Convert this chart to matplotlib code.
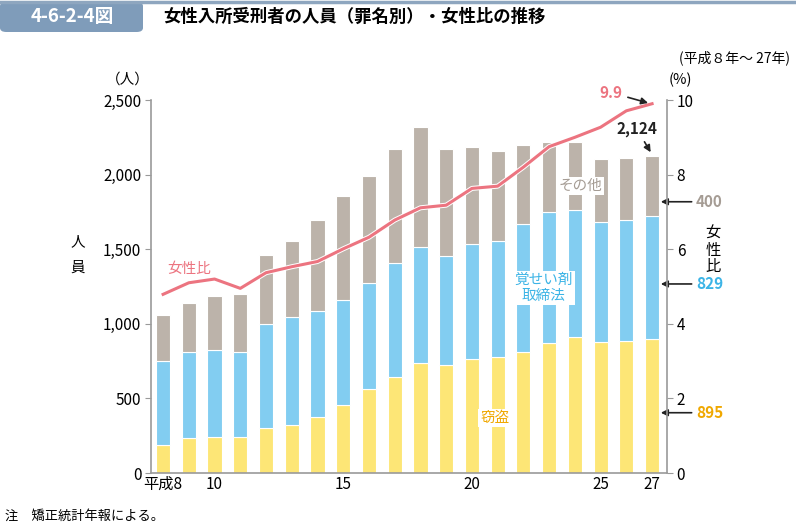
import matplotlib
matplotlib.use('Agg')
import matplotlib.pyplot as plt
import matplotlib.patheffects as pe
from matplotlib.patches import FancyBboxPatch
import numpy as np

plt.rcParams['font.family'] = ['Noto Sans CJK JP', 'DejaVu Sans']

# 平成8年～27年
years = list(range(8, 28))
theft = [188, 232, 244, 241, 302, 319, 373, 453, 561, 643,
         735, 722, 762, 775, 809, 869, 911, 876, 882, 895]
stimulant = [563, 577, 580, 568, 695, 724, 713, 707, 710, 767,
             782, 735, 771, 782, 858, 882, 854, 809, 812, 829]
other = [308, 332, 365, 389, 462, 510, 610, 694, 720, 759,
         804, 712, 654, 603, 531, 465, 451, 420, 417, 400]
female_ratio = [4.79, 5.10, 5.20, 4.95, 5.37, 5.53, 5.67, 6.01, 6.32, 6.78,
                7.11, 7.18, 7.63, 7.69, 8.20, 8.75, 9.00, 9.27, 9.71, 9.9]
tick_years = [8, 10, 15, 20, 25, 27]
tick_labels = ['平成8', '10', '15', '20', '25', '27']

COL_THEFT = '#fde676'
COL_STIM = '#82cdf1'
COL_OTHER = '#bcb3aa'
COL_LINE = '#ec7480'
COL_AXIS = '#9a9a9a'

fig = plt.figure(figsize=(7.96, 5.22), dpi=100)
ax = fig.add_axes([151/796, 49/522, 516/796, 373/522])

x = np.array(years)
theft = np.array(theft)
stimulant = np.array(stimulant)
other = np.array(other)
w = 0.55
ax.bar(x, theft, w, color=COL_THEFT, edgecolor='white', linewidth=0.8, zorder=2)
ax.bar(x, stimulant, w, bottom=theft, color=COL_STIM, edgecolor='white', linewidth=0.8, zorder=2)
ax.bar(x, other, w, bottom=theft + stimulant, color=COL_OTHER, edgecolor='white', linewidth=0.8, zorder=2)

ax.set_xlim(7.53, 27.58)
ax.set_ylim(0, 2500)
ax.set_yticks(range(0, 2501, 500))
ax.set_yticklabels(['0', '500', '1,000', '1,500', '2,000', '2,500'])
ax.set_xticks(tick_years)
ax.set_xticklabels(tick_labels)
ax.tick_params(axis='x', length=0, labelsize=11, pad=2)
ax.tick_params(axis='y', direction='out', length=4, color=COL_AXIS, labelsize=11, pad=3)
for s in ['top', 'right']:
    ax.spines[s].set_visible(False)
for s in ['left', 'bottom']:
    ax.spines[s].set_color(COL_AXIS)
    ax.spines[s].set_linewidth(1.2)

ax2 = ax.twinx()
ax2.set_ylim(0, 10)
ax2.set_yticks(range(0, 11, 2))
ax2.tick_params(axis='y', direction='out', length=4, color=COL_AXIS, labelsize=11, pad=3)
for s in ['top', 'left', 'bottom']:
    ax2.spines[s].set_visible(False)
ax2.spines['right'].set_color(COL_AXIS)
ax2.spines['right'].set_linewidth(1.2)
ax2.plot(x, female_ratio, color=COL_LINE, linewidth=2.2, zorder=3,
         path_effects=[pe.Stroke(linewidth=3.6, foreground='white'), pe.Normal()])

# labels inside the chart
ax.text(9.0, 1370, '女性比', color=COL_LINE, fontsize=10.5, ha='center', va='center')
ax.text(24.2, 1925, 'その他', color='#a59c94', fontsize=10.5, ha='center', va='center',
        bbox=dict(facecolor='white', edgecolor='none', pad=1.5), zorder=4)
ax.text(22.8, 1240, '覚せい剤\n取締法', color='#3cb4e6', fontsize=10.5, ha='center', va='center',
        linespacing=1.15, bbox=dict(facecolor='white', edgecolor='none', pad=1.5), zorder=4)
ax.text(20.9, 370, '窃盗', color='#f0a800', fontsize=10.5, ha='center', va='center',
        bbox=dict(facecolor='white', edgecolor='none', pad=1.5), zorder=4)

# end-of-series callouts
arrow = dict(arrowstyle='-|>', color='#222222', lw=1.2, mutation_scale=10)
ax2.annotate('9.9', xy=(x[-1] - 0.05, female_ratio[-1]), xytext=(25.4, 10.2),
             color=COL_LINE, fontsize=11, fontweight='bold', ha='center', va='center',
             arrowprops=arrow, annotation_clip=False)
total = theft + stimulant + other
ax.annotate('{:,}'.format(total[-1]), xy=(x[-1], total[-1] + 10), xytext=(26.4, 2308),
            color='#222222', fontsize=11, fontweight='bold', ha='center', va='center',
            arrowprops=arrow, annotation_clip=False)
side = [(other[-1], 1818, '#a59c94'), (stimulant[-1], 1267, '#3cb4e6'), (theft[-1], 404, '#f0a800')]
for val, ypos, col in side:
    ax.annotate(str(val), xy=(27.34, ypos), xytext=(28.7, ypos),
                color=col, fontsize=11, fontweight='bold', ha='left', va='center',
                arrowprops=dict(arrowstyle='-|>', color='#222222', lw=1.2, mutation_scale=10,
                                shrinkA=1, shrinkB=0),
                annotation_clip=False)

# axis captions
fig.text(128/796, 1 - 80/522, '（人）', fontsize=10.5, ha='center', va='center')
fig.text(78/796, 1 - 255/522, '人\n\n員', fontsize=10.5, ha='center', va='center', linespacing=0.9)
fig.text(680/796, 1 - 80/522, '(%)', fontsize=10.5, ha='center', va='center')
fig.text(713/796, 1 - 250/522, '女\n性\n比', fontsize=11, ha='center', va='center', linespacing=1.0)

# title band
fig.add_artist(plt.Line2D([0, 1], [1 - 2/522, 1 - 2/522], color='#8ea6bf', lw=2.5,
                          transform=fig.transFigure))
fig.add_artist(FancyBboxPatch((0, 1 - 32/522), 143/796, 30/522, boxstyle='round,pad=0,rounding_size=0.008',
                              transform=fig.transFigure, facecolor='#7f9cba', edgecolor='none'))
fig.text(72/796, 1 - 17/522, '4-6-2-4図', color='white', fontsize=13.5, fontweight='bold',
         ha='center', va='center')
fig.text(163/796, 1 - 17/522, '女性入所受刑者の人員（罪名別）・女性比の推移', fontsize=12.5,
         fontweight='bold', ha='left', va='center')
fig.text(790/796, 1 - 58/522, '(平成８年～ 27年)', fontsize=10, ha='right', va='center')
fig.text(5/796, 1 - 516/522, '注　矯正統計年報による。', fontsize=9.5, ha='left', va='center')

fig.savefig('out.png', dpi=100)
